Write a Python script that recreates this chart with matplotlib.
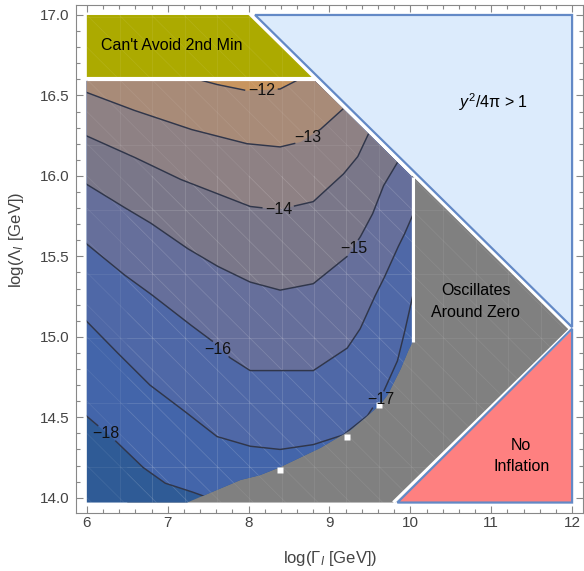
import numpy as np
import matplotlib
matplotlib.use("Agg")
import matplotlib.pyplot as plt
from matplotlib.patches import Polygon
from matplotlib.collections import LineCollection
from matplotlib.ticker import MultipleLocator

plt.rcParams['font.family'] = ['Liberation Sans', 'DejaVu Sans']
plt.rcParams['mathtext.fontset'] = 'custom'
plt.rcParams['mathtext.rm'] = 'Liberation Sans'
plt.rcParams['mathtext.it'] = 'Liberation Sans:italic'

# contour lines of log10 of the quantity, traced level by level
levels = [-12, -13, -14, -15, -16, -17, -18]
lev_x = {
    -12: [7.22, 7.59, 7.98, 8.39, 8.70],
    -13: [5.99, 6.57, 7.28, 7.98, 8.39, 8.64, 8.89, 9.22],
    -14: [5.99, 6.57, 7.15, 7.61, 8.02, 8.37, 8.80, 9.17, 9.35, 9.50],
    -15: [5.99, 6.41, 6.78, 7.24, 7.61, 8.02, 8.39, 8.80, 9.07, 9.22, 9.38, 9.53, 9.67, 9.86],
    -16: [5.99, 6.45, 6.78, 7.24, 7.56, 7.77, 8.02, 8.39, 8.80, 9.22, 9.38, 9.55, 9.67, 9.84, 9.92, 10.05],
    -17: [5.99, 6.32, 6.78, 7.15, 7.61, 8.02, 8.39, 8.80, 9.17, 9.47, 9.67, 9.84, 9.92, 10.05],
    -18: [5.99, 6.32, 6.69, 6.97, 7.28, 7.50],
}
lev_y = {
    -12: [16.62, 16.57, 16.53, 16.54, 16.62],
    -13: [16.52, 16.41, 16.29, 16.20, 16.18, 16.21, 16.29, 16.44],
    -14: [16.25, 16.12, 15.98, 15.89, 15.81, 15.79, 15.84, 16.01, 16.12, 16.28],
    -15: [15.95, 15.82, 15.71, 15.55, 15.44, 15.34, 15.29, 15.33, 15.44, 15.50, 15.62, 15.76, 15.94, 16.10],
    -16: [15.58, 15.39, 15.27, 15.09, 14.97, 14.87, 14.79, 14.79, 14.79, 14.93, 15.05, 15.24, 15.36, 15.55, 15.63, 15.78],
    -17: [15.10, 14.93, 14.70, 14.56, 14.38, 14.32, 14.30, 14.33, 14.39, 14.51, 14.66, 14.85, 15.01, 15.30],
    -18: [14.51, 14.37, 14.19, 14.09, 14.04, 14.00],
}
# where each contour carries its label
lab_x = {-12: 8.16, -13: 8.73, -14: 8.37, -15: 9.30, -16: 7.62, -17: 9.63, -18: 6.24}
lab_y = {-12: 16.53, -13: 16.24, -14: 15.79, -15: 15.55, -16: 14.92, -17: 14.61, -18: 14.40}

# band colours: above -12, -12..-13, ..., -17..-18, below -18
band_colors = ['#c8955f', '#a88b78', '#8e8184', '#7a7789', '#666f9b',
               '#4f68a7', '#4365aa', '#2f5b96']

# outline of the region where the contour map is defined
region_x = [6.0, 8.82, 10.03, 10.03, 9.98, 9.88, 9.72, 9.63, 9.45, 9.26, 8.89, 8.39, 8.14, 7.90, 7.24, 6.0]
region_y = [16.59, 16.59, 15.99, 14.97, 14.92, 14.80, 14.64, 14.58, 14.50, 14.42, 14.31, 14.19, 14.14, 14.11, 13.97, 13.97]
# small white notches left along the lower edge
notch_x = [9.61, 9.22, 8.39]
notch_y = [14.575, 14.38, 14.17]

# other excluded / special regions
olive_x = [6.0, 8.0, 8.78, 6.0]
olive_y = [17.0, 17.0, 16.615, 16.615]
coupling_x = [8.08, 12.0, 12.0]
coupling_y = [17.0, 17.0, 15.06]
noinfl_x = [9.84, 12.0, 12.0]
noinfl_y = [13.97, 13.97, 15.05]
osc_x = [6.5, 9.82, 11.96, 10.03, 6.5]
osc_y = [13.97, 13.97, 15.05, 16.0, 16.0]

fig = plt.figure(figsize=(5.84, 5.71), dpi=100)
ax = fig.add_axes([76 / 584, 1 - 513 / 571, 507 / 584, 508 / 571])
ax.set_xlim(5.866, 12.135)
ax.set_ylim(13.905, 17.062)

gray_patch = Polygon(np.column_stack([osc_x, osc_y]), closed=True, fc='#808080', ec='none', zorder=1)
ax.add_patch(gray_patch)

region_patch = Polygon(np.column_stack([region_x, region_y]), closed=True,
                       fc=band_colors[-1], ec='none', zorder=2)
ax.add_patch(region_patch)

# fill each "value above level" area, lowest level first
for i, lev in enumerate(levels[::-1]):
    xs = list(lev_x[lev]) + [10.6, 10.6, 5.5, 5.5]
    ys = list(lev_y[lev]) + [lev_y[lev][-1], 17.5, 17.5, lev_y[lev][0]]
    band = Polygon(np.column_stack([xs, ys]), closed=True,
                   fc=band_colors[len(levels) - 1 - i], ec='none', zorder=2)
    ax.add_patch(band)
    band.set_clip_path(region_patch)

olive_patch = Polygon(np.column_stack([olive_x, olive_y]), closed=True, fc='#acaa00', ec='none', zorder=2)
ax.add_patch(olive_patch)

# faint triangulation mesh showing through the filled regions
segs = []
for gx in np.arange(6.41, 12.0, 0.4):
    segs.append([(gx, 13.9), (gx, 17.1)])
for gy in np.arange(14.19, 17.0, 0.4):
    segs.append([(5.8, gy), (12.2, gy)])
for c in np.arange(16.0, 23.0, 0.2):
    segs.append([(5.8, c - 0.5 * 5.8), (12.2, c - 0.5 * 12.2)])
for p in (gray_patch, region_patch, olive_patch):
    lc = LineCollection(segs, colors='white', linewidths=0.6, alpha=0.08, zorder=3)
    ax.add_collection(lc)
    lc.set_clip_path(p)

# contour lines with a gap where the label sits
for lev in levels:
    xs, ys = np.array(lev_x[lev]), np.array(lev_y[lev])
    px = np.concatenate([np.linspace(xs[k], xs[k + 1], 40) for k in range(len(xs) - 1)])
    py = np.concatenate([np.linspace(ys[k], ys[k + 1], 40) for k in range(len(ys) - 1)])
    disp = ax.transData.transform(np.column_stack([px, py]))
    lc0 = ax.transData.transform((lab_x[lev], lab_y[lev]))
    d = ((disp[:, 0] - lc0[0]) / 17) ** 2 + ((disp[:, 1] - lc0[1]) / 9) ** 2
    py = py.copy()
    py[d < 1] = np.nan
    ln, = ax.plot(px, py, color='#30364a', lw=1.05, zorder=4)
    ln.set_clip_path(region_patch)
    ax.text(lab_x[lev], lab_y[lev], '\u2212' + str(-lev), fontsize=11.5, color='#111111',
            ha='center', va='center', zorder=7)

ax.plot(notch_x, notch_y, ls='none', marker='s', ms=4.8, mfc='white', mec='none', zorder=5)

blue_patch = Polygon(np.column_stack([coupling_x, coupling_y]), closed=True,
                     fc='#dcebfc', ec='none', zorder=2)
ax.add_patch(blue_patch)
red_patch = Polygon(np.column_stack([noinfl_x, noinfl_y]), closed=True,
                    fc='#fe8080', ec='none', zorder=2)
ax.add_patch(red_patch)

# white separators between the regions
ax.plot([8.04, 12.0], [17.0, 15.04], color='white', lw=2.6, zorder=5, solid_capstyle='butt')
ax.plot([6.0, 8.82], [16.602, 16.602], color='white', lw=2.2, zorder=5, solid_capstyle='butt')
ax.plot([9.79, 11.97], [13.97, 15.04], color='white', lw=2.4, zorder=5, solid_capstyle='butt')
ax.plot([10.03, 10.03], [15.99, 14.97], color='white', lw=2.2, zorder=5, solid_capstyle='butt')

for xs, ys in ((coupling_x, coupling_y), (noinfl_x, noinfl_y)):
    ax.add_patch(Polygon(np.column_stack([xs, ys]), closed=True, fc='none',
                         ec='#6389c6', lw=1.6, zorder=6, joinstyle='miter'))

ax.text(7.05, 16.81, "Can't Avoid 2nd Min", fontsize=11.5, ha='center', va='center', zorder=7)
ax.text(11.03, 16.46, '$y^2$/4\u03c0 > 1', fontsize=11.5, ha='center', va='center', zorder=7)
ax.text(10.81, 15.22, 'Oscillates\nAround Zero', fontsize=11.5, ha='center', va='center',
        linespacing=1.55, zorder=7)
ax.text(11.37, 14.26, 'No\nInflation', fontsize=11.5, ha='center', va='center',
        linespacing=1.55, zorder=7)

ax.xaxis.set_major_locator(MultipleLocator(1))
ax.xaxis.set_minor_locator(MultipleLocator(0.2))
ax.yaxis.set_major_locator(MultipleLocator(0.5))
ax.yaxis.set_minor_locator(MultipleLocator(0.1))
ax.yaxis.set_major_formatter(matplotlib.ticker.FormatStrFormatter('%.1f'))
ax.tick_params(which='both', direction='in', top=True, right=True, color='#888888', width=0.8)
ax.tick_params(which='major', length=5, labelsize=11, labelcolor='#444444')
ax.tick_params(which='minor', length=2.8)
ax.tick_params(axis='x', pad=2)
ax.tick_params(axis='y', pad=5)
for sp in ax.spines.values():
    sp.set_color('#888888')
    sp.set_linewidth(0.8)

fig.text(330 / 584, 1 - 558 / 571, r'log($\Gamma_I$ [GeV])', fontsize=12, color='#444444',
         ha='center', va='center')
fig.text(17 / 584, 1 - 240 / 571, r'log($\Lambda_I$ [GeV])', fontsize=12, color='#444444',
         ha='center', va='center', rotation=90)

fig.savefig('out.png', dpi=100)
